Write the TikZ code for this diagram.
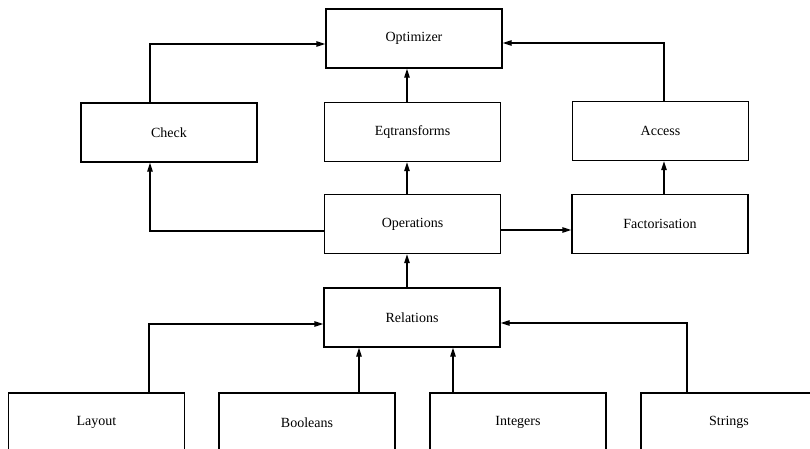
\documentclass[tikz,border=0pt]{standalone}
\usepackage{fontspec}
\setmainfont{Liberation Serif}
\usepackage{tikz}
\usetikzlibrary{arrows.meta,positioning,calc}
\tikzset{
  module/.style ={rectangle, draw=black, line width=1.4pt, fill=white,
                  align=center, minimum height=59pt, minimum width=176pt,
                  inner sep=0pt, font=\fontsize{14}{16}\selectfont},
  flow/.style   ={-{Triangle[length=9pt,width=5.5pt]}, line width=1.4pt},
}

\begin{document}
\begin{tikzpicture}[x=1pt,y=1pt]
    \useasboundingbox (0,0) rectangle (810,-448);

    % nodes
    \node[module] (opt) at (414,-38.5) {Optimizer};
    \node[module] (chk) at (169,-132.5) {Check};
    \node[module] (eqt) at (412.5,-132) {Eqtransforms};
    \node[module] (acc) at (660.5,-131) {Access};
    \node[module] (ops) at (412.5,-224) {Operations};
    \node[module] (fac) at (660,-224) {Factorisation};
    \node[module] (rel) at (412,-317.5) {Relations};
    \node[module] (lay) at (96.5,-422.5) {Layout};
    \node[module] (boo) at (307,-422.5) {Booleans};
    \node[module] (int) at (518,-422.5) {Integers};
    \node[module] (str) at (729,-422.5) {Strings};

    % flows
    \draw[flow] ([xshift=-19pt]chk.north) |- ([yshift=-5.5pt]opt.west);
    \draw[flow] ([xshift=3.5pt]acc.north) |- ([yshift=-4.5pt]opt.east);
    \draw[flow] ([xshift=-5.5pt]eqt.north) -- ([xshift=-5.5pt]eqt.north |- opt.south);
    \draw[flow] ([xshift=-5.5pt]ops.north) -- ([xshift=-5.5pt]ops.north |- eqt.south);
    \draw[flow] ([yshift=-7pt]ops.west) -| ([xshift=-19pt]chk.south);
    \draw[flow] ([yshift=-6pt]ops.east) -- ([yshift=-6pt]fac.west);
    \draw[flow] ([xshift=4pt]fac.north) -- ([xshift=4pt]fac.north |- acc.south);
    \draw[flow] ([xshift=-5pt]rel.north) -- ([xshift=-5pt]rel.north |- ops.south);
    \draw[flow] ([xshift=52.5pt]lay.north) |- ([yshift=-6.5pt]rel.west);
    \draw[flow] ([xshift=52pt]boo.north) -- ([xshift=52pt]boo.north |- rel.south);
    \draw[flow] ([xshift=-65pt]int.north) -- ([xshift=-65pt]int.north |- rel.south);
    \draw[flow] ([xshift=-42pt]str.north) |- ([yshift=-5.5pt]rel.east);
\end{tikzpicture}
\end{document}
